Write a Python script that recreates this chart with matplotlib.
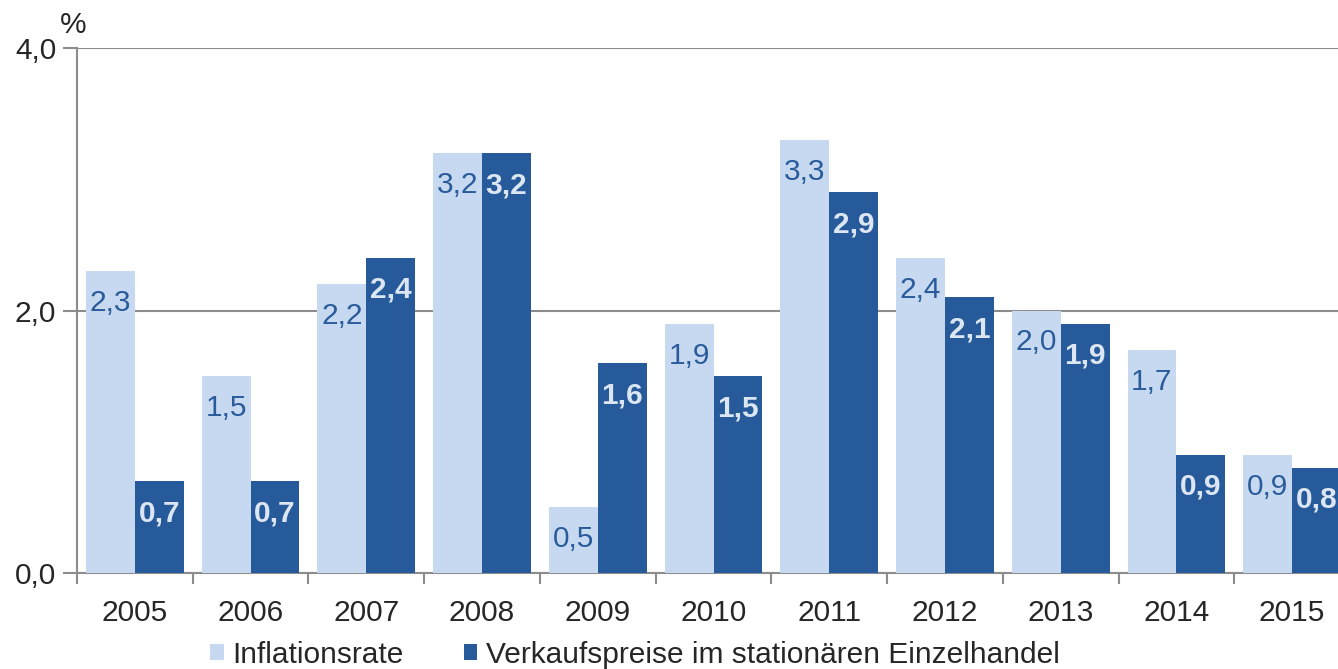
import matplotlib
matplotlib.use("Agg")
import matplotlib.pyplot as plt
from matplotlib.patches import Patch
import numpy as np

years = ["2005", "2006", "2007", "2008", "2009", "2010", "2011", "2012", "2013", "2014", "2015"]
inflation = [2.3, 1.5, 2.2, 3.2, 0.5, 1.9, 3.3, 2.4, 2.0, 1.7, 0.9]
retail = [0.7, 0.7, 2.4, 3.2, 1.6, 1.5, 2.9, 2.1, 1.9, 0.9, 0.8]
series_names = ["Inflationsrate", "Verkaufspreise im stationären Einzelhandel"]
yticks = [0.0, 2.0, 4.0]
ytick_labels = ["0,0", "2,0", "4,0"]

light = "#C6D9F0"
dark = "#265A9A"
label_dark = "#2A5B9B"
label_light = "#DCE6F2"
grid_col = "#8C8C8C"
txt_col = "#262626"
fs = 21.5

plt.rcParams['font.family'] = ['Liberation Sans', 'DejaVu Sans']

fig = plt.figure(figsize=(13.38, 6.69), dpi=100)
ax = fig.add_axes([77/1338, 1-573/669, 1273/1338, 525/669])

x = np.arange(len(years))
w = 0.4224
ax.bar(x - w/2, inflation, width=w, color=light, zorder=3)
ax.bar(x + w/2, retail, width=w, color=dark, zorder=3)

for xi, v in zip(x - w/2, inflation):
    ax.annotate(f"{v:.1f}".replace(".", ","), (xi, v), xytext=(0, -32),
                textcoords="offset pixels", ha="center", va="center",
                fontsize=fs, color=label_dark, zorder=4)
for xi, v in zip(x + w/2, retail):
    ax.annotate(f"{v:.1f}".replace(".", ","), (xi, v), xytext=(0, -32),
                textcoords="offset pixels", ha="center", va="center",
                fontsize=fs, color=label_light, fontweight="bold", zorder=4)

ax.set_xlim(-0.5, len(years) - 0.5)
ax.set_ylim(0, 4.0)
ax.set_yticks(yticks)
ax.set_yticklabels(ytick_labels, fontsize=fs, color=txt_col)
ax.set_xticks(x)
ax.set_xticklabels(years, fontsize=fs, color=txt_col)
ax.set_xticks(np.arange(len(years) + 1) - 0.5, minor=True)
ax.tick_params(axis="x", which="major", length=0, pad=19)
ax.tick_params(axis="x", which="minor", length=8, width=1.5, color=grid_col)
ax.tick_params(axis="y", length=10, width=1.5, color=grid_col, pad=5)

ax.yaxis.grid(True, color=grid_col, linewidth=1.5, zorder=0)
ax.set_axisbelow(True)
for s in ["top", "right"]:
    ax.spines[s].set_visible(False)
for s in ["left", "bottom"]:
    ax.spines[s].set_color(grid_col)
    ax.spines[s].set_linewidth(1.5)

fig.text(73/1338, 1-25/669, "%", fontsize=fs, color=txt_col, ha="center", va="center")

handles = [Patch(facecolor=light, edgecolor="none"), Patch(facecolor=dark, edgecolor="none")]
fig.legend(handles, series_names, loc="center", bbox_to_anchor=(635/1338, 1-655/669),
           ncol=2, frameon=False, fontsize=fs, handlelength=0.45, handleheight=0.45,
           handletextpad=0.3, columnspacing=2.0, labelcolor=txt_col, borderpad=0)

fig.savefig("out.png", dpi=100)
